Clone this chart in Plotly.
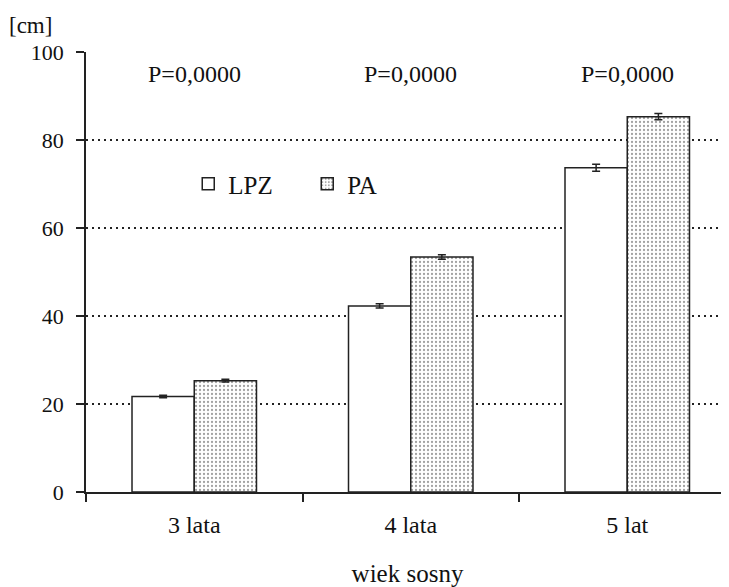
import plotly.graph_objects as go

categories = ["3 lata", "4 lata", "5 lat"]
lpz_values = [21.7, 42.3, 73.7]
lpz_errors = [0.3, 0.5, 0.8]
pa_values = [25.3, 53.4, 85.3]
pa_errors = [0.3, 0.5, 0.7]
p_labels = ["P=0,0000", "P=0,0000", "P=0,0000"]
y_ticks = [0, 20, 40, 60, 80, 100]

FONT = "Liberation Serif"
INK = "#111"

fig = go.Figure()
fig.add_trace(go.Bar(
    name="LPZ", x=categories, y=lpz_values,
    marker=dict(color="white", line=dict(color="#222", width=1.5)),
    error_y=dict(type="data", array=lpz_errors, color="#222", thickness=1.5, width=4),
))
fig.add_trace(go.Bar(
    name="PA", x=categories, y=pa_values,
    marker=dict(color="white", line=dict(color="#222", width=1.5),
                pattern=dict(shape=".", fgcolor="#444", bgcolor="white", size=4, solidity=0.25)),
    error_y=dict(type="data", array=pa_errors, color="#222", thickness=1.5, width=4),
))

for c, t in zip(categories, p_labels):
    fig.add_annotation(x=c, y=95, xref="x", yref="y", text=t, showarrow=False,
                       font=dict(family=FONT, size=24, color=INK), yanchor="middle")

fig.add_annotation(x=-0.123, y=1.06, xref="paper", yref="paper", text="[cm]", showarrow=False,
                   xanchor="left", yanchor="middle",
                   font=dict(family=FONT, size=23, color=INK))

fig.update_layout(
    width=721, height=579,
    margin=dict(l=78, r=0, t=44, b=95),
    paper_bgcolor="white", plot_bgcolor="white",
    barmode="group", bargap=0.425, bargroupgap=0,
    font=dict(family=FONT, size=22, color=INK),
    showlegend=True,
    legend=dict(orientation="h", x=0.159, y=0.70, xanchor="left", yanchor="middle",
                bgcolor="rgba(0,0,0,0)", font=dict(family=FONT, size=25, color=INK),
                entrywidth=74, entrywidthmode="pixels", itemwidth=30),
    xaxis=dict(type="category", range=[-0.5, 2.47], showline=True, linecolor="#222", linewidth=1.5,
               ticks="outside", tickson="boundaries", ticklen=8, tickcolor="#222", tickwidth=1.5,
               showgrid=False, tickfont=dict(family=FONT, size=24, color=INK),
               ticklabelstandoff=10, automargin=False,
               title=dict(text="wiek sosny", font=dict(family=FONT, size=25, color=INK), standoff=28)),
    yaxis=dict(range=[0, 100], tickvals=y_ticks, showline=True, linecolor="#222", linewidth=1.5,
               ticks="outside", ticklen=8, tickcolor="#222", tickwidth=1.5,
               showgrid=True, gridcolor="#222", gridwidth=1.5, griddash="2px,4px",
               zeroline=False, tickfont=dict(family=FONT, size=22, color=INK),
               ticklabelstandoff=8, automargin=False),
)

fig.write_html("out.html")
